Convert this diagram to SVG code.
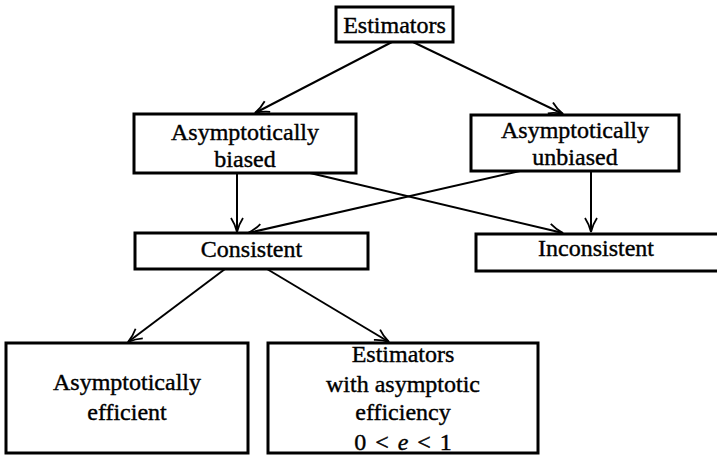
<svg xmlns="http://www.w3.org/2000/svg" width="717" height="455" viewBox="0 0 717 455">
<defs>
<style>
.box{fill:#fff;stroke:#000;stroke-width:3}
.t{font-family:"Liberation Serif","Times New Roman",serif;font-size:24px;fill:#000;stroke:#000;stroke-width:0.4;text-anchor:middle}
.c{fill:none;stroke:#000;stroke-width:2}
</style>
<marker id="arr" markerUnits="userSpaceOnUse" markerWidth="20" markerHeight="14" refX="15" refY="7" orient="auto" overflow="visible">
<path d="M1,1 Q7,5 15,7 Q7,9 1,13" fill="none" stroke="#000" stroke-width="1.8"/>
</marker>
</defs>
<rect width="717" height="455" fill="#fff"/>
<g id="connectors">
<line class="c" x1="392" y1="42" x2="255" y2="113" marker-end="url(#arr)"/>
<line class="c" x1="413" y1="42" x2="563" y2="114" marker-end="url(#arr)"/>
<line class="c" x1="237" y1="173" x2="237" y2="232" marker-end="url(#arr)"/>
<line class="c" x1="591" y1="171" x2="591" y2="232" marker-end="url(#arr)"/>
<line class="c" x1="310" y1="173" x2="563" y2="233" marker-end="url(#arr)"/>
<line class="c" x1="520" y1="171" x2="248" y2="233" marker-end="url(#arr)"/>
<line class="c" x1="225" y1="269" x2="128" y2="342" marker-end="url(#arr)"/>
<line class="c" x1="267" y1="269" x2="389" y2="342" marker-end="url(#arr)"/>
</g>
<g id="estimators">
<rect class="box" x="336" y="7" width="117" height="35"/>
<text class="t" x="394.5" y="33">Estimators</text>
</g>
<g id="asym-biased">
<rect class="box" x="134" y="114" width="222" height="59"/>
<text class="t" x="245" y="140">Asymptotically</text>
<text class="t" x="245" y="167">biased</text>
</g>
<g id="asym-unbiased">
<rect class="box" x="471" y="115" width="208" height="56"/>
<text class="t" x="575" y="138">Asymptotically</text>
<text class="t" x="575" y="165">unbiased</text>
</g>
<g id="consistent">
<rect class="box" x="135" y="233" width="233" height="36"/>
<text class="t" x="251.5" y="257">Consistent</text>
</g>
<g id="inconsistent">
<rect class="box" x="476" y="234" width="245" height="37"/>
<text class="t" x="596" y="256">Inconsistent</text>
</g>
<g id="asym-efficient">
<rect class="box" x="6" y="343" width="242" height="110"/>
<text class="t" x="127" y="390">Asymptotically</text>
<text class="t" x="127" y="420">efficient</text>
</g>
<g id="estimators-partial">
<rect class="box" x="268" y="343" width="270" height="110"/>
<text class="t" x="403" y="362">Estimators</text>
<text class="t" x="403" y="392">with asymptotic</text>
<text class="t" x="403" y="420">efficiency</text>
<text class="t" x="403" y="450" word-spacing="3">0 &lt; <tspan font-style="italic">e</tspan> &lt; 1</text>
</g>
</svg>
